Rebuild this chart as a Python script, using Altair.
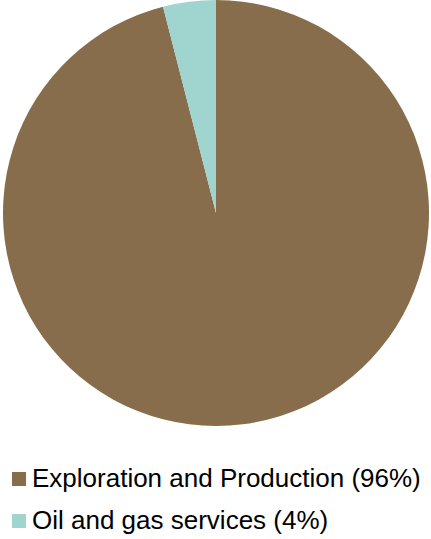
import altair as alt
import pandas as pd

categories = ["Exploration and Production (96%)", "Oil and gas services (4%)"]
values = [96, 4]
colors = ["#876D4B", "#A0D4CF"]

df = pd.DataFrame({"cat": categories, "val": values, "order": [0, 1]})

chart = alt.Chart(df).mark_arc(radius=213, stroke=None).encode(
    theta=alt.Theta("val:Q", stack=True),
    order=alt.Order("order:Q"),
    color=alt.Color(
        "cat:N",
        sort=categories,
        scale=alt.Scale(domain=categories, range=colors),
        legend=alt.Legend(
            title=None,
            orient="none",
            legendX=6,
            legendY=466,
            symbolType="square",
            symbolSize=196,
            symbolStrokeWidth=0,
            labelFontSize=26,
            labelFont="Arial",
            labelColor="#000000",
            labelOffset=0,
            rowPadding=16,
            labelLimit=500,
        ),
    ),
    x=alt.value(216),
    y=alt.value(213),
).properties(
    width=431, height=539,
    autosize=alt.AutoSizeParams(type="none"),
    padding=0,
).configure_view(stroke=None)

chart.save("out.html", embed_options={"renderer": "svg", "actions": False})
